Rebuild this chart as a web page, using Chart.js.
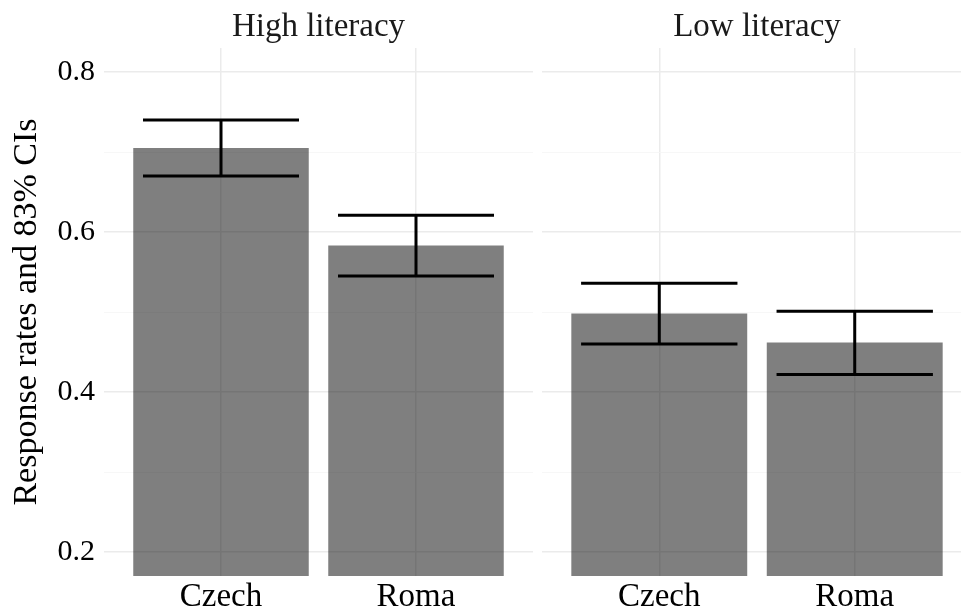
<!DOCTYPE html>
<html>
<head>
<meta charset="utf-8">
<script src="https://cdn.jsdelivr.net/npm/chart.js@4.4.1/dist/chart.umd.min.js"></script>
<style>
html, body { margin: 0; padding: 0; overflow: hidden; background: #fff; }
#left { position: absolute; left: 0; top: 0; width: 540px; height: 610px; }
#right { position: absolute; left: 542px; top: 0; width: 430px; height: 610px; }
</style>
</head>
<body>
<div id="left"><canvas id="highChart"></canvas></div>
<div id="right"><canvas id="lowChart"></canvas></div>
<script>
// values
const groups = ['Czech', 'Roma'];
const highRates = [0.705, 0.583];
const highLower = [0.670, 0.545];
const highUpper = [0.740, 0.621];
const lowRates = [0.498, 0.462];
const lowLower = [0.460, 0.422];
const lowUpper = [0.536, 0.501];
const yTicks = [0.2, 0.4, 0.6, 0.8];
const yMinor = [0.3, 0.5, 0.7];

const serif = 'Liberation Serif';

// draws the 83% CI whiskers on top of the bars
const errorBars = {
    id: 'errorBars',
    afterDatasetsDraw(chart, args, opts) {
        const ctx = chart.ctx;
        const x = chart.scales.x, y = chart.scales.y;
        const band = x.getPixelForValue(2) - x.getPixelForValue(1);
        const half = band * 0.4;
        ctx.save();
        ctx.strokeStyle = '#000';
        ctx.lineWidth = 3;
        opts.lower.forEach((lo, i) => {
            const cx = x.getPixelForValue(i + 1);
            const yl = y.getPixelForValue(lo);
            const yu = y.getPixelForValue(opts.upper[i]);
            ctx.beginPath();
            ctx.moveTo(cx - half, yu); ctx.lineTo(cx + half, yu);
            ctx.moveTo(cx, yu); ctx.lineTo(cx, yl);
            ctx.moveTo(cx - half, yl); ctx.lineTo(cx + half, yl);
            ctx.stroke();
        });
        ctx.restore();
    }
};

function makePanel(id, title, rates, lower, upper, showY) {
    return new Chart(document.getElementById(id), {
        type: 'bar',
        data: {
            datasets: [{
                data: rates.map((v, i) => ({ x: i + 1, y: v })),
                backgroundColor: 'rgba(0,0,0,0.5)',
                borderWidth: 0,
                barPercentage: 0.9,
                categoryPercentage: 1
            }]
        },
        options: {
            responsive: true,
            maintainAspectRatio: false,
            animation: false,
            layout: { padding: { left: 0, right: showY ? 7 : 0, top: 0, bottom: 0 } },
            plugins: {
                legend: { display: false },
                tooltip: { enabled: false },
                title: {
                    display: true,
                    text: title,
                    fullSize: false,
                    color: '#1a1a1a',
                    font: { family: serif, size: 33, weight: 'normal' },
                    padding: { top: 7.5, bottom: 0.9 }
                },
                errorBars: { lower: lower, upper: upper }
            },
            scales: {
                x: {
                    type: 'linear',
                    min: 0.4,
                    max: 2.6,
                    offset: false,
                    afterBuildTicks: s => { s.ticks = groups.map((g, i) => ({ value: i + 1 })); },
                    afterFit: s => { s.height = 34; },
                    ticks: {
                        callback: v => groups[v - 1],
                        color: '#000',
                        font: { family: serif, size: 33 },
                        padding: 2,
                        maxRotation: 0,
                        autoSkip: false
                    },
                    grid: { offset: false, color: '#ebebeb', lineWidth: 1.5, drawTicks: false },
                    border: { display: false }
                },
                y: {
                    min: 0.17,
                    max: 0.83,
                    afterBuildTicks: s => {
                        s.ticks = yTicks.concat(yMinor).sort((a, b) => a - b).map(v => ({ value: v }));
                    },
                    afterFit: s => { s.width = showY ? 104 : 0; },
                    ticks: {
                        display: showY,
                        callback: v => yTicks.includes(v) ? v.toFixed(1) : '',
                        color: '#000',
                        font: { family: serif, size: 30 },
                        padding: 9
                    },
                    grid: {
                        color: c => yTicks.includes(c.tick.value) ? '#ebebeb' : '#f5f5f5',
                        lineWidth: c => yTicks.includes(c.tick.value) ? 1.5 : 0.8,
                        drawTicks: false
                    },
                    border: { display: false },
                    title: {
                        display: showY,
                        text: 'Response rates and 83% CIs',
                        color: '#000',
                        font: { family: serif, size: 34 },
                        padding: { top: 7, bottom: 0 }
                    }
                }
            }
        },
        plugins: [errorBars]
    });
}

makePanel('highChart', 'High literacy', highRates, highLower, highUpper, true);
makePanel('lowChart', 'Low literacy', lowRates, lowLower, lowUpper, false);
</script>
</body>
</html>
